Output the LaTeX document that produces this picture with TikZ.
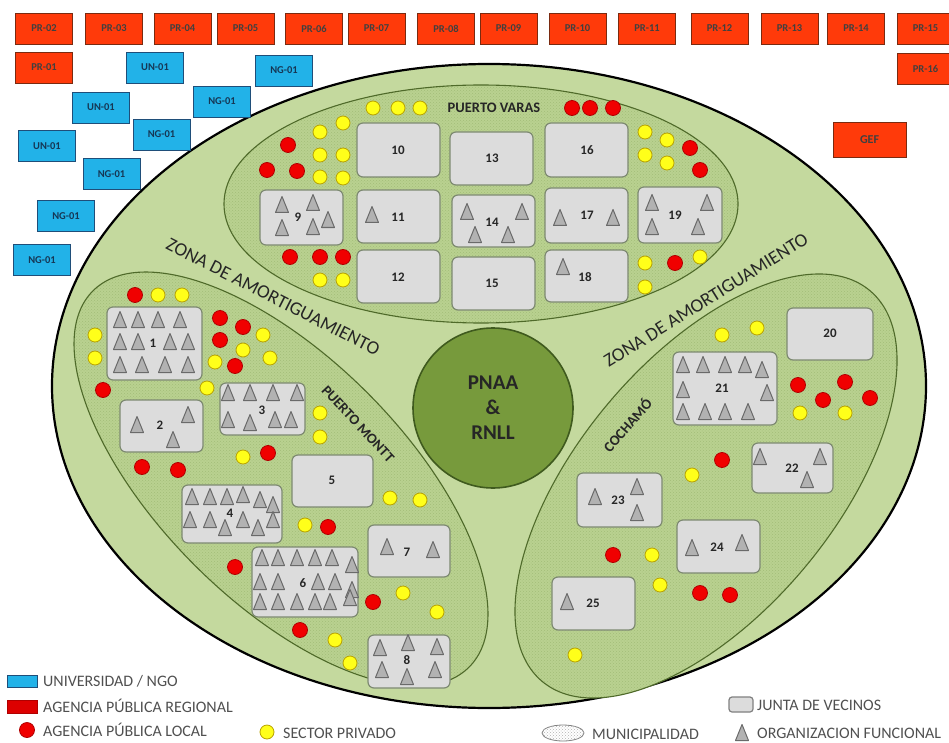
\documentclass[tikz,border=0pt]{standalone}
\usepackage{fontspec}
\setmainfont{Carlito}
\usetikzlibrary{patterns}
\definecolor{zone}{HTML}{C4D99E}
\definecolor{muni}{HTML}{B9D190}
\definecolor{munidot}{HTML}{A3BD78}
\definecolor{muniline}{HTML}{4F6A2A}
\definecolor{core}{HTML}{779A3C}
\definecolor{coreline}{HTML}{3F5A1E}
\definecolor{jvfill}{HTML}{DCDCDC}
\definecolor{jvline}{HTML}{7E8A72}
\definecolor{trifill}{HTML}{B2B2B2}
\definecolor{triline}{HTML}{6A6A6A}
\definecolor{regred}{HTML}{FF3A0A}
\definecolor{regline}{HTML}{7A2A10}
\definecolor{ngoblue}{HTML}{22B2E8}
\definecolor{ngoline}{HTML}{1F4E79}
\definecolor{locred}{HTML}{F00000}
\definecolor{locline}{HTML}{B00000}
\definecolor{priv}{HTML}{FFFF1A}
\definecolor{privline}{HTML}{B8A200}
\definecolor{legtext}{HTML}{505050}
\begin{document}
\begin{tikzpicture}[x=1pt,y=-1pt,
  prbox/.style={draw=regline, fill=regred, line width=0.8pt, minimum width=57pt, minimum height=31pt, inner sep=0pt, font=\fontsize{10.5}{11}\selectfont\bfseries, text=black!75},
  ngbox/.style={draw=ngoline, fill=ngoblue, line width=0.8pt, minimum width=57pt, minimum height=31pt, inner sep=0pt, font=\fontsize{10.5}{11}\selectfont\bfseries, text=ngoline!70!black},
  jv/.style={draw=jvline, fill=jvfill, line width=1.2pt, rounded corners=6pt, inner sep=0pt},
  num/.style={font=\fontsize{13}{14}\selectfont\bfseries, text=black!85, inner sep=0pt},
  yel/.style={circle, fill=priv, draw=privline, line width=0.8pt, minimum size=14pt, inner sep=0pt},
  loc/.style={circle, fill=locred, draw=locline, line width=0.8pt, minimum size=15pt, inner sep=0pt},
  munlabel/.style={font=\fontsize{14.5}{15}\selectfont\bfseries, text=black!85, inner sep=0pt},
  zonelabel/.style={font=\fontsize{19}{20}\selectfont, text=black!85, inner sep=0pt},
  legtxt/.style={font=\fontsize{16}{17}\selectfont, text=legtext, inner sep=0pt, anchor=west},
  munarea/.style={fill=muni},
  mundots/.style={pattern=crosshatch dots, pattern color=munidot},
  munedge/.style={draw=muniline, line width=1.1pt},
  tri/.pic={\filldraw[fill=trifill, draw=triline, line width=1pt, line join=round] (-6.5,7.5) -- (0,-8.5) -- (6.5,7.5) -- cycle;}
]
\useasboundingbox (0,0) rectangle (949,743);

% outer zone
\filldraw[fill=zone, draw=black, line width=2.2pt] (489,386) ellipse (437 and 322);

% municipalities
\foreach \st in {munarea, mundots, munedge} {
  \path[\st] (481,204) ellipse (257 and 119);
  \path[\st, rotate around={-45:(281,479)}] (281,479) ellipse (266 and 122);
  \path[\st, rotate around={50:(706,486)}] (706,486) ellipse (255 and 128);
}

% core
\node[circle, fill=core, draw=coreline, line width=1.6pt, minimum size=160pt, inner sep=0pt, align=center, font=\fontsize{21}{25}\selectfont\bfseries, text=black!85] (pnaa) at (493,408) {PNAA\\\&\\RNLL};

% zone labels
\node[zonelabel, rotate=-27] (zoneL) at (273,297) {ZONA DE AMORTIGUAMIENTO};
\node[zonelabel, rotate=32] (zoneR) at (706,300) {ZONA DE AMORTIGUAMIENTO};

% juntas de vecinos
\foreach \n/\x/\y/\w/\h in {
  10/398.5/150/83/54, 13/491.5/158.5/83/53, 16/586.5/150/83/54,
  9/301.5/217.5/83/55, 11/398.5/216.5/83/53, 14/493.5/221/83/52, 17/586.5/215.5/83/55, 19/680/215/84/56,
  12/398.5/276.5/83/53, 15/493.5/283.5/83/53, 18/586.5/276/83/52,
  1/154.5/343.5/95/73, 2/161.5/426/83/52, 3/262.5/409/85/52, 5/332.5/481/81/52,
  4/232/514/100/58, 7/409/551/82/52, 6/305/582/106/70, 8/409/661.5/82/53,
  20/830/334/86/52, 21/725/388.5/104/73, 22/792.5/468/81/50, 23/619.5/500/85/54,
  24/718.5/546.5/83/53, 25/593.5/603.5/83/53}
  \node[jv, minimum width=\w pt, minimum height=\h pt] (b\n) at (\x,\y) {};

% organizaciones funcionales
\foreach \x/\y in {
  282/205, 313/203, 328/220, 282/228, 313/227,
  372/215,
  467/212, 522/212, 475/235, 508/235,
  560/218, 613/218,
  652/203, 707/203, 652/227, 698/227,
  563/267,
  120/320, 138/320, 158/320, 180/320, 120/342, 138/342, 170/342, 188/342, 120/365, 142/365, 165/365, 188/365,
  137/425, 188/415, 173/440,
  228/393, 250/393, 273/393, 297/393, 228/420, 250/423, 275/420, 291/420,
  192/497, 210/497, 227/497, 243/495, 260/500, 273/505, 190/520, 210/520, 225/528, 243/520, 258/528, 273/520,
  387/547, 433/550,
  262/558, 278/558, 297/558, 315/558, 332/558, 352/565, 260/582, 278/582, 318/582, 335/582, 352/590,
  260/602, 278/602, 297/602, 315/602, 330/602, 350/598,
  380/648, 408/643, 437/647, 382/670, 407/677, 435/670,
  683/365, 703/365, 725/365, 745/365, 762/370, 683/390, 767/393, 683/412, 705/412, 725/412, 748/412,
  760/457, 820/457, 807/480,
  595/497, 637/487, 637/513,
  692/548, 742/543,
  567/602}
  \pic at (\x,\y) {tri};

% numbers
\foreach \x/\y/\t in {
  398/150/10, 492/158/13, 587/150/16, 298/217/9, 398/217/11, 492/222/14, 587/215/17, 675/215/19,
  398/277/12, 492/283/15, 585/277/18,
  153/343/1, 160/425/2, 262/410/3, 332/480/5, 230/513/4, 407/552/7, 303/583/6, 407/660/8,
  830/333/20, 722/388/21, 792/468/22, 618/500/23, 717/547/24, 593/603/25}
  \node[num] (n\t) at (\x,\y) {\t};

% sector privado
\foreach \x/\y [count=\i] in {
  373/108, 398/108, 420/108, 343/123, 320/132, 320/155, 343/155, 320/177, 343/178, 320/280, 343/280,
  645/132, 667/140, 645/155, 667/163, 645/263, 645/287, 700/257,
  158/295, 182/295, 95/335, 95/358, 263/335, 243/350, 270/358, 215/362, 207/388, 320/413, 320/437,
  243/457, 390/498, 420/500, 305/525, 403/593, 437/612, 335/640, 350/663,
  722/335, 757/328, 800/413, 845/413, 692/475, 652/555, 660/585, 575/655}
  \node[yel] (y\i) at (\x,\y) {};

% agencia publica local
\foreach \x/\y [count=\i] in {
  572/108, 590/108, 613/108, 288/145, 267/170, 297/171, 290/257, 320/257, 343/257, 690/148, 700/170, 675/263,
  135/295, 103/390, 220/318, 243/327, 220/340, 235/366, 142/467, 178/470, 268/453, 328/527, 235/567, 373/602, 300/630,
  798/385, 845/382, 823/400, 870/398, 722/460, 613/555, 700/593, 730/595}
  \node[loc] (r\i) at (\x,\y) {};

% municipality labels
\node[munlabel] (pv) at (494,108) {PUERTO VARAS};
\node[munlabel, rotate=-47] (pm) at (358,424) {PUERTO MONTT};
\node[munlabel, rotate=49] (co) at (627,425) {COCHAMÓ};

% regional agencies
\foreach \t/\x/\y [count=\i] in {
  PR-02/44/28.5, PR-03/114/28.5, PR-04/182.5/28.5, PR-05/245.5/28.5, PR-06/314/28.5, PR-07/376.5/28.5,
  PR-08/446/28.5, PR-09/508.5/28.5, PR-10/577.5/28.5, PR-11/647/28.5, PR-12/719.5/28.5, PR-13/789.5/28.5,
  PR-14/856/28.5, PR-15/925.5/28.5, PR-16/925.5/68.5, PR-01/44/67.5}
  \node[prbox] (pr\i) at (\x,\y) {\t};
\node[prbox, minimum width=73pt, minimum height=35pt, font=\fontsize{12}{13}\selectfont\bfseries] (gef) at (869.5,139.5) {GEF};

% universities / NGOs
\foreach \t/\x/\y [count=\i] in {
  UN-01/155/67.5, NG-01/284/70.5, UN-01/101/107.5, NG-01/222/101.5, NG-01/161.5/134.5,
  UN-01/47/146, NG-01/111.5/174, NG-01/66/216, NG-01/42/260}
  \node[ngbox] (ng\i) at (\x,\y) {\t};

% legend
\node[draw=ngoline, fill=ngoblue, line width=0.6pt, minimum width=30pt, minimum height=12pt, inner sep=0pt] (lg1) at (22,681) {};
\node[legtxt] (lt1) at (43,681) {UNIVERSIDAD / NGO};
\node[draw=locline, fill=locred!92!black, line width=0.6pt, minimum width=30pt, minimum height=13pt, inner sep=0pt] (lg2) at (22,706.5) {};
\node[legtxt] (lt2) at (43,706) {AGENCIA PÚBLICA REGIONAL};
\node[loc] (lg3) at (27,730) {};
\node[legtxt] (lt3) at (43,730) {AGENCIA PÚBLICA LOCAL};
\node[yel] (lg4) at (267,732) {};
\node[legtxt] (lt4) at (283,733) {SECTOR PRIVADO};
\path[fill=white, draw=gray, line width=0.8pt] (563,733) ellipse (21 and 8);
\path[pattern=crosshatch dots, pattern color=gray!60] (563,733) ellipse (21 and 8);
\node[legtxt] (lt5) at (592,734) {MUNICIPALIDAD};
\node[jv, minimum width=24pt, minimum height=15pt, rounded corners=3pt, draw=gray] (lg6) at (741,704.5) {};
\node[legtxt] (lt6) at (757,705) {JUNTA DE VECINOS};
\pic at (742,733) {tri};
\node[legtxt] (lt7) at (757,733) {ORGANIZACION FUNCIONAL};
\end{tikzpicture}
\end{document}
